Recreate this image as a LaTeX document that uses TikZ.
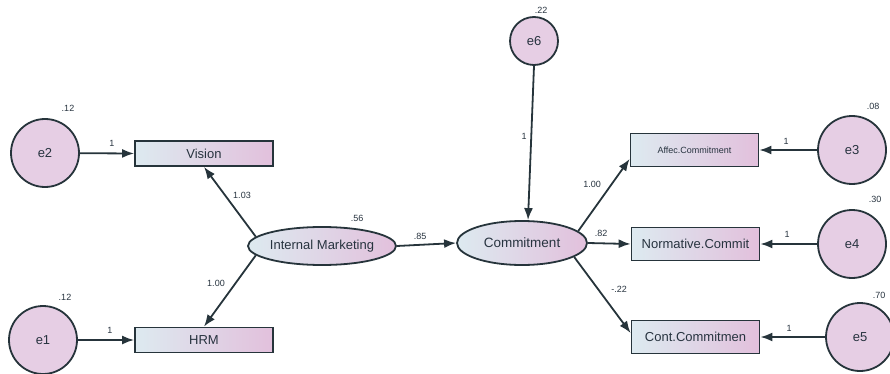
\documentclass[tikz,border=0pt]{standalone}
\usepackage{fontspec}
\setmainfont{Liberation Sans}
\usetikzlibrary{arrows.meta,calc,shapes.geometric}

\definecolor{edge}{HTML}{26343B}
\definecolor{ink}{HTML}{27333F}
\definecolor{errfill}{HTML}{E6CEE4}
\definecolor{boxleft}{HTML}{DDEAF0}
\definecolor{boxright}{HTML}{E2C0DC}

\tikzset{
  base/.style={draw=edge, line width=1.8pt, text=ink, inner sep=0pt},
  errc/.style={base, circle, fill=errfill, minimum size=68pt, font=\fontsize{13}{13}\selectfont},
  errsmall/.style={errc, minimum size=48pt},
  obsbox/.style={base, rectangle, left color=boxleft, right color=boxright,
                 minimum width=138pt, minimum height=25pt, font=\fontsize{13}{13}\selectfont},
  obsbig/.style={obsbox, minimum width=128pt, minimum height=33pt},
  latent/.style={base, ellipse, left color=boxleft, right color=boxright},
  path/.style={draw=edge, line width=1.8pt, -{Latex[length=12pt,width=9pt]}},
  coef/.style={text=ink, font=\fontsize{9}{9}\selectfont, inner sep=0pt}
}

\begin{document}
\begin{tikzpicture}[x=1pt, y=-1pt]
\useasboundingbox (0,0) rectangle (890,374);

% observed indicators
\node[obsbox] (vision) at (204,153.5) {Vision};
\node[obsbox] (hrm)    at (204,340)   {HRM};
\node[obsbig, font=\fontsize{9}{9}\selectfont] (affec) at (694.5,150) {Affec.Commitment};
\node[obsbig] (norm)   at (695.5,244) {Normative.Commit};
\node[obsbig] (cont)   at (695.5,337) {Cont.Commitmen};

% latent constructs
\node[latent, minimum width=148pt, minimum height=38pt, font=\fontsize{13}{13}\selectfont] (im) at (322,246) {Internal Marketing};
\node[latent, minimum width=130pt, minimum height=44pt, font=\fontsize{13.5}{13.5}\selectfont] (comm) at (522,243) {Commitment};

% error terms
\node[errc] (e2) at (45,153) {e2};
\node[errc] (e1) at (43,340) {e1};
\node[errsmall] (e6) at (534,41) {e6};
\node[errc] (e3) at (852,150) {e3};
\node[errc] (e4) at (852,244) {e4};
\node[errc] (e5) at (860,337) {e5};

% error paths
\draw[path] (e2) -- (vision.west);
\draw[path] (e1) -- (hrm.west);
\draw[path] (e3) -- (affec.east);
\draw[path] (e4) -- (norm.east);
\draw[path] (e5) -- (cont.east);
\draw[path] (e6.south) -- ([xshift=6pt]comm.north);

% structural and measurement paths
\draw[path] (im.172) -- (vision.south);
\draw[path] (im.188) -- (hrm.north);
\draw[path] (im.east) -- (comm.west);
\draw[path] (comm.12) -- ($(affec.west)+(0,9)$);
\draw[path] (comm.east) -- (norm.west);
\draw[path] (comm.345) -- ($(cont.west)+(0,-4)$);

% variances
\node[coef] (v2) at (68,108) {.12};
\node[coef] (v1) at (65,297) {.12};
\node[coef] (vim) at (357,218) {.56};
\node[coef] (v6) at (541,10) {.22};
\node[coef] (v3) at (873,106) {.08};
\node[coef] (v4) at (875,199) {.30};
\node[coef] (v5) at (879,295) {.70};

% path coefficients
\node[coef] (w2) at (112,143) {1};
\node[coef] (w1) at (110,330) {1};
\node[coef] (w6) at (524,136) {1};
\node[coef] (w3) at (786,141) {1};
\node[coef] (w4) at (787,234) {1};
\node[coef] (w5) at (789,328) {1};
\node[coef] (bvis) at (242,195) {1.03};
\node[coef] (bhrm) at (216,283) {1.00};
\node[coef] (bcom) at (420,236) {.85};
\node[coef] (baff) at (592,184) {1.00};
\node[coef] (bnor) at (601,233) {.82};
\node[coef] (bcon) at (619,289) {-.22};
\end{tikzpicture}
\end{document}
